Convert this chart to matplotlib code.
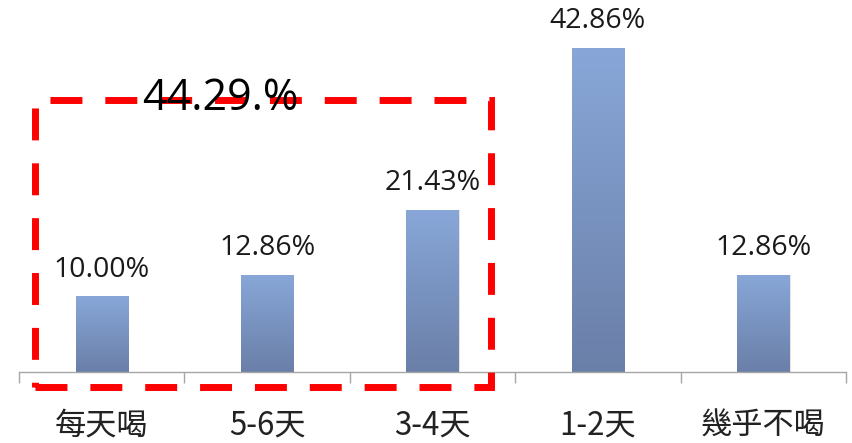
import numpy as np
import matplotlib.pyplot as plt
from matplotlib.colors import LinearSegmentedColormap
from matplotlib.patches import Rectangle

plt.rcParams['font.family'] = ['Noto Sans CJK TC', 'DejaVu Sans']

categories = ['每天喝', '5-6天', '3-4天', '1-2天', '幾乎不喝']
values = [10.00, 12.86, 21.43, 42.86, 12.86]
value_labels = ['10.00%', '12.86%', '21.43%', '42.86%', '12.86%']
group_label = '44.29.%'

W, H = 852, 443
fig = plt.figure(figsize=(W / 100, H / 100), dpi=100)
fig.patch.set_facecolor('white')
ax = fig.add_axes([19 / W, 71 / H, 827 / W, 372 / H])
ax.set_facecolor('none')

bar_w = 0.315
cmap = LinearSegmentedColormap.from_list('barfade', ['#6a7fa8', '#88a7d8'])
grad = np.linspace(0, 1, 256).reshape(-1, 1)

bars = ax.bar(range(len(values)), values, width=bar_w, color='none', edgecolor='none')
for b, lab in zip(bars, value_labels):
    x0, w, h = b.get_x(), b.get_width(), b.get_height()
    # soft drop shadow
    ax.add_patch(Rectangle((x0 + 0.008, 0), w, h, facecolor='#c8c8c8', edgecolor='none',
                           alpha=0.5, zorder=1))
    im = ax.imshow(grad, extent=(x0, x0 + w, 0, h), origin='lower', cmap=cmap,
                   aspect='auto', zorder=2)
    im.set_clip_path(b)
    ax.text(x0 + w / 2, h + 1.7, lab, ha='center', va='bottom', fontsize=20.5,
            color='#1a1a1a', family=['Open Sans', 'DejaVu Sans'])

ax.set_aspect('auto')
ax.set_xlim(-0.5, 4.5)
ax.set_ylim(0, 49.2)

for s in ['top', 'left', 'right']:
    ax.spines[s].set_visible(False)
ax.spines['bottom'].set_color('#a6a6a6')
ax.spines['bottom'].set_linewidth(1.0)
ax.set_yticks([])
ax.set_xticks(range(len(categories)))
ax.set_xticklabels(categories, fontsize=22.5, color='#222222')
ax.tick_params(axis='x', which='major', length=0, pad=27)
ax.set_xticks(np.arange(-0.5, 5, 1), minor=True)
ax.tick_params(axis='x', which='minor', length=8, color='#a6a6a6', width=1.0)

# dashed outline around the first three categories
box = Rectangle((-0.405, -1.98), 2.757, 37.98, fill=False, edgecolor='#ff0000',
                linewidth=5, linestyle=(0, (4.6, 3.3)), clip_on=False, zorder=5)
ax.add_patch(box)
ax.text(0.72, 36.1, group_label, ha='center', va='center', fontsize=31,
        color='black', family=['Open Sans', 'DejaVu Sans'], zorder=6)

fig.savefig('out.png', dpi=100)
